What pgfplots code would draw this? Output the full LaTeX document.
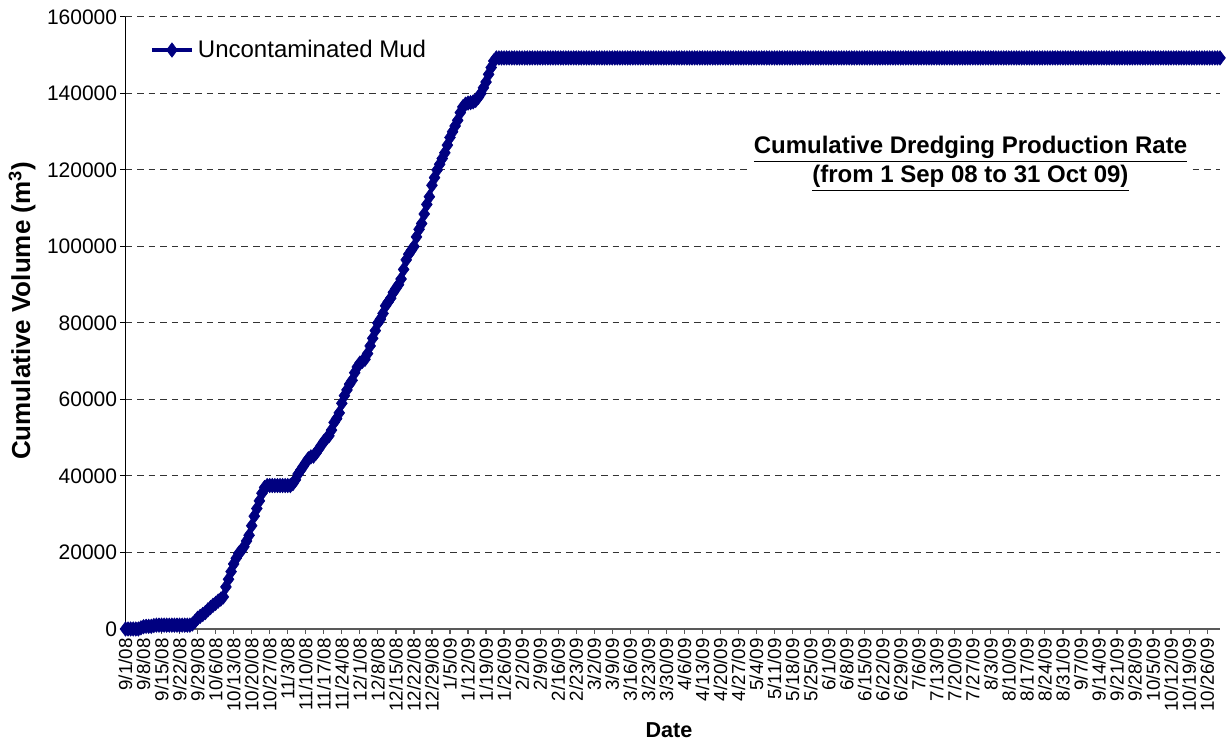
\documentclass[border=0pt]{standalone}
\usepackage{pgfplots}
\pgfplotsset{compat=1.18}
\usepackage{fontspec}
\setmainfont{Liberation Sans}
\definecolor{navy}{RGB}{0,0,128}
\begin{document}
\begin{tikzpicture}
\begin{axis}[
  scale only axis,
  width=547.25pt, height=306pt,
  xmin=0, xmax=425, ymin=0, ymax=160000,
  clip=false,
  axis x line*=bottom, axis y line*=left,
  x axis line style={gray!70!black, line width=1pt},
  y axis line style={black, line width=0.5pt},
  tick align=outside, major tick length=2.5pt,
  xtick={0,7,...,420},
  xticklabels={9/1/08,9/8/08,9/15/08,9/22/08,9/29/08,10/6/08,10/13/08,10/20/08,10/27/08,11/3/08,11/10/08,11/17/08,11/24/08,12/1/08,12/8/08,12/15/08,12/22/08,12/29/08,1/5/09,1/12/09,1/19/09,1/26/09,2/2/09,2/9/09,2/16/09,2/23/09,3/2/09,3/9/09,3/16/09,3/23/09,3/30/09,4/6/09,4/13/09,4/20/09,4/27/09,5/4/09,5/11/09,5/18/09,5/25/09,6/1/09,6/8/09,6/15/09,6/22/09,6/29/09,7/6/09,7/13/09,7/20/09,7/27/09,8/3/09,8/10/09,8/17/09,8/24/09,8/31/09,9/7/09,9/14/09,9/21/09,9/28/09,10/5/09,10/12/09,10/19/09,10/26/09},
  xticklabel style={rotate=90, anchor=east, font=\fontsize{9.4}{11}\selectfont, inner sep=2pt},
  xtick style={gray!70!black, line width=0.6pt},
  ytick={0,20000,...,160000},
  yticklabel style={font=\fontsize{10.5}{12}\selectfont, /pgf/number format/assume math mode=true, /pgf/number format/fixed, /pgf/number format/1000 sep={}, inner sep=1.5pt},
  scaled y ticks=false,
  ytick style={black, line width=0.5pt},
  ymajorgrids,
  major grid style={black!80, line width=0.5pt, dash pattern=on 3.3pt off 2.5pt},
  xlabel={\textbf{Date}},
  xlabel style={font=\fontsize{10.8}{13}\selectfont, at={(axis description cs:0.4965,-0.166)}, anchor=center},
  ylabel={\textbf{Cumulative Volume (m\textsuperscript{3})}},
  ylabel style={font=\fontsize{13}{15}\selectfont, at={(axis description cs:-0.0945,0.52)}, anchor=center},
  legend style={draw=none, fill=none, at={(0.022,0.946)}, anchor=west, font=\fontsize{12}{14}\selectfont, inner sep=0pt},
  legend cell align=left,
  legend image code/.code={\draw[mark repeat=2, mark phase=2, #1] plot coordinates {(0pt,0pt) (10pt,0pt) (20pt,0pt)};},
]
\addplot[navy, line width=2pt, mark=diamond*, mark size=3.6pt, mark options={solid, fill=navy, draw=navy, line width=0.3pt}] table[row sep=\\] {
x y\\
0 0\\ 1 0\\ 2 0\\ 3 0\\ 4 0\\ 5 0\\ 6 300\\ 7 600\\ 8 700\\ 9 700\\
10 700\\ 11 900\\ 12 1000\\ 13 1000\\ 14 1000\\ 15 1000\\ 16 1000\\ 17 1000\\ 18 1000\\ 19 1000\\
20 1000\\ 21 1000\\ 22 1000\\ 23 1000\\ 24 1000\\ 25 1000\\ 26 1300\\ 27 2000\\ 28 2800\\ 29 3300\\
30 3800\\ 31 4300\\ 32 5000\\ 33 5600\\ 34 6200\\ 35 6700\\ 36 7300\\ 37 7800\\ 38 8400\\ 39 11000\\
40 13000\\ 41 15000\\ 42 17000\\ 43 18500\\ 44 19800\\ 45 20500\\ 46 21500\\ 47 23000\\ 48 24500\\ 49 27000\\
50 29500\\ 51 31500\\ 52 33500\\ 53 35500\\ 54 37000\\ 55 37500\\ 56 37500\\ 57 37500\\ 58 37500\\ 59 37500\\
60 37500\\ 61 37500\\ 62 37500\\ 63 37500\\ 64 37500\\ 65 38000\\ 66 39000\\ 67 40500\\ 68 41500\\ 69 42500\\
70 43500\\ 71 44500\\ 72 45000\\ 73 45200\\ 74 46000\\ 75 47000\\ 76 48000\\ 77 49000\\ 78 49800\\ 79 50500\\
80 52000\\ 81 54000\\ 82 55000\\ 83 56500\\ 84 59000\\ 85 61000\\ 86 62500\\ 87 64000\\ 88 65000\\ 89 67000\\
90 68500\\ 91 69500\\ 92 70000\\ 93 70500\\ 94 72000\\ 95 74000\\ 96 76000\\ 97 78000\\ 98 80000\\ 99 81000\\
100 82500\\ 101 84500\\ 102 85500\\ 103 86500\\ 104 88000\\ 105 89000\\ 106 90000\\ 107 91500\\ 108 94000\\ 109 96500\\
110 98000\\ 111 99000\\ 112 100000\\ 113 102500\\ 114 104500\\ 115 106000\\ 116 108500\\ 117 111000\\ 118 113000\\ 119 116000\\
120 118000\\ 121 120000\\ 122 121500\\ 123 123000\\ 124 124500\\ 125 126500\\ 126 128500\\ 127 130000\\ 128 131500\\ 129 133000\\
130 135000\\ 131 136500\\ 132 137200\\ 133 137500\\ 134 137600\\ 135 137800\\ 136 138200\\ 137 139000\\ 138 140000\\ 139 141500\\
140 143000\\ 141 145000\\ 142 146800\\ 143 148500\\ 144 149300\\ 145 149300\\ 146 149300\\ 147 149300\\ 148 149300\\ 149 149300\\
150 149300\\ 151 149300\\ 152 149300\\ 153 149300\\ 154 149300\\ 155 149300\\ 156 149300\\ 157 149300\\ 158 149300\\ 159 149300\\
160 149300\\ 161 149300\\ 162 149300\\ 163 149300\\ 164 149300\\ 165 149300\\ 166 149300\\ 167 149300\\ 168 149300\\ 169 149300\\
170 149300\\ 171 149300\\ 172 149300\\ 173 149300\\ 174 149300\\ 175 149300\\ 176 149300\\ 177 149300\\ 178 149300\\ 179 149300\\
180 149300\\ 181 149300\\ 182 149300\\ 183 149300\\ 184 149300\\ 185 149300\\ 186 149300\\ 187 149300\\ 188 149300\\ 189 149300\\
190 149300\\ 191 149300\\ 192 149300\\ 193 149300\\ 194 149300\\ 195 149300\\ 196 149300\\ 197 149300\\ 198 149300\\ 199 149300\\
200 149300\\ 201 149300\\ 202 149300\\ 203 149300\\ 204 149300\\ 205 149300\\ 206 149300\\ 207 149300\\ 208 149300\\ 209 149300\\
210 149300\\ 211 149300\\ 212 149300\\ 213 149300\\ 214 149300\\ 215 149300\\ 216 149300\\ 217 149300\\ 218 149300\\ 219 149300\\
220 149300\\ 221 149300\\ 222 149300\\ 223 149300\\ 224 149300\\ 225 149300\\ 226 149300\\ 227 149300\\ 228 149300\\ 229 149300\\
230 149300\\ 231 149300\\ 232 149300\\ 233 149300\\ 234 149300\\ 235 149300\\ 236 149300\\ 237 149300\\ 238 149300\\ 239 149300\\
240 149300\\ 241 149300\\ 242 149300\\ 243 149300\\ 244 149300\\ 245 149300\\ 246 149300\\ 247 149300\\ 248 149300\\ 249 149300\\
250 149300\\ 251 149300\\ 252 149300\\ 253 149300\\ 254 149300\\ 255 149300\\ 256 149300\\ 257 149300\\ 258 149300\\ 259 149300\\
260 149300\\ 261 149300\\ 262 149300\\ 263 149300\\ 264 149300\\ 265 149300\\ 266 149300\\ 267 149300\\ 268 149300\\ 269 149300\\
270 149300\\ 271 149300\\ 272 149300\\ 273 149300\\ 274 149300\\ 275 149300\\ 276 149300\\ 277 149300\\ 278 149300\\ 279 149300\\
280 149300\\ 281 149300\\ 282 149300\\ 283 149300\\ 284 149300\\ 285 149300\\ 286 149300\\ 287 149300\\ 288 149300\\ 289 149300\\
290 149300\\ 291 149300\\ 292 149300\\ 293 149300\\ 294 149300\\ 295 149300\\ 296 149300\\ 297 149300\\ 298 149300\\ 299 149300\\
300 149300\\ 301 149300\\ 302 149300\\ 303 149300\\ 304 149300\\ 305 149300\\ 306 149300\\ 307 149300\\ 308 149300\\ 309 149300\\
310 149300\\ 311 149300\\ 312 149300\\ 313 149300\\ 314 149300\\ 315 149300\\ 316 149300\\ 317 149300\\ 318 149300\\ 319 149300\\
320 149300\\ 321 149300\\ 322 149300\\ 323 149300\\ 324 149300\\ 325 149300\\ 326 149300\\ 327 149300\\ 328 149300\\ 329 149300\\
330 149300\\ 331 149300\\ 332 149300\\ 333 149300\\ 334 149300\\ 335 149300\\ 336 149300\\ 337 149300\\ 338 149300\\ 339 149300\\
340 149300\\ 341 149300\\ 342 149300\\ 343 149300\\ 344 149300\\ 345 149300\\ 346 149300\\ 347 149300\\ 348 149300\\ 349 149300\\
350 149300\\ 351 149300\\ 352 149300\\ 353 149300\\ 354 149300\\ 355 149300\\ 356 149300\\ 357 149300\\ 358 149300\\ 359 149300\\
360 149300\\ 361 149300\\ 362 149300\\ 363 149300\\ 364 149300\\ 365 149300\\ 366 149300\\ 367 149300\\ 368 149300\\ 369 149300\\
370 149300\\ 371 149300\\ 372 149300\\ 373 149300\\ 374 149300\\ 375 149300\\ 376 149300\\ 377 149300\\ 378 149300\\ 379 149300\\
380 149300\\ 381 149300\\ 382 149300\\ 383 149300\\ 384 149300\\ 385 149300\\ 386 149300\\ 387 149300\\ 388 149300\\ 389 149300\\
390 149300\\ 391 149300\\ 392 149300\\ 393 149300\\ 394 149300\\ 395 149300\\ 396 149300\\ 397 149300\\ 398 149300\\ 399 149300\\
400 149300\\ 401 149300\\ 402 149300\\ 403 149300\\ 404 149300\\ 405 149300\\ 406 149300\\ 407 149300\\ 408 149300\\ 409 149300\\
410 149300\\ 411 149300\\ 412 149300\\ 413 149300\\ 414 149300\\ 415 149300\\ 416 149300\\ 417 149300\\ 418 149300\\ 419 149300\\
420 149300\\ 421 149300\\ 422 149300\\ 423 149300\\ 424 149300\\ 425 149300\\
};
\addlegendentry{Uncontaminated Mud}
\node[fill=white, inner sep=2pt, align=center, font=\fontsize{12}{14.5}\selectfont\bfseries] at (rel axis cs:0.772,0.76)
  {\underline{Cumulative Dredging Production Rate}\\\underline{(from 1 Sep 08 to 31 Oct 09)}};
\end{axis}
\pgfresetboundingbox
\path (-62.75pt,-56.5pt) rectangle (550.25pt,314.5pt);
\end{tikzpicture}
\end{document}
